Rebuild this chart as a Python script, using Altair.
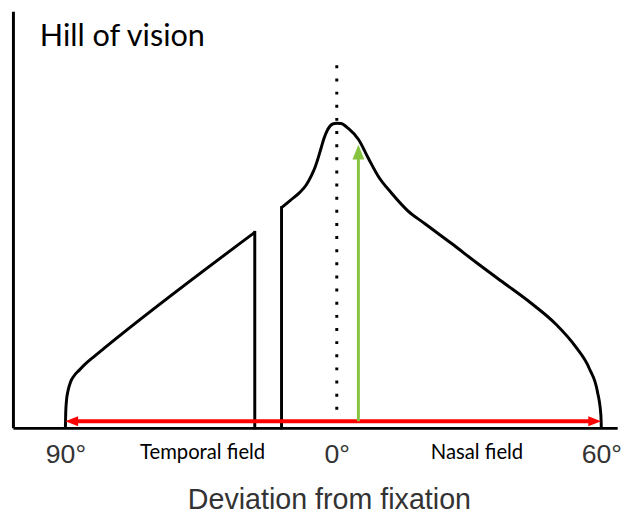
import altair as alt
import pandas as pd

# ---- data (x: degrees from fixation, temporal negative; y: relative sensitivity 0-100)
# temporal hill (left of the blind spot), ends at the blind-spot edge
temporal_deg = [-90.0, -89.9, -89.66, -89.17, -88.35, -87.04, -85.4, -83.1, -80.5, -76.6, -27.2]
temporal_sens = [0.0, 3.55, 6.4, 8.77, 10.9, 12.56, 13.86, 15.52, 17.11, 19.43, 46.92]
# nasal hill (right of the blind spot), starts at the blind-spot edge
nasal_deg = [-18.32, -15.38, -12.43, -10.14, -8.51, -7.2, -6.22, -5.24, -4.25, -3.27, -2.29, -1.15,
             0.0, 0.9, 2.69, 4.93, 7.16, 9.4, 12.54, 16.12, 19.93, 25.97, 31.79, 37.83, 43.88,
             49.7, 54.2, 57.3, 59.1, 59.9, 60.0]
nasal_sens = [52.84, 54.62, 56.4, 58.29, 60.43, 62.56, 64.69, 67.06, 69.43, 71.2, 72.39, 72.99,
              73.1, 73.06, 71.8, 69.2, 64.7, 60.4, 56.2, 52.1, 49.05, 44.3, 39.57, 34.83, 30.09,
              24.88, 19.43, 14.2, 8.77, 3.08, 0.0]
# blind-spot walls (x, top)
wall_deg = [-27.2, -18.32]
wall_top = [46.92, 52.84]

tick_values = [-90, 0, 60]
field_labels = ["Temporal field", "Nasal field"]
field_label_deg = [-44.5, 31.8]
field_label_sens = [-7.4, -7.4]

title_text = "Hill of vision"
title_deg = -98.5
title_sens = 91.7

fixation_deg = 0.0
fixation_top = 87.0

red_arrow_sens = 1.6
red_shaft = [-87.9, 58.5]
red_heads_deg = [-87.9, 58.5]

green_arrow_deg = 4.9
green_shaft = [1.6, 66.2]
green_head_sens = 66.2

# ---- tables
curve = pd.DataFrame(
    [{"seg": "temporal", "i": i, "deg": d, "sens": s} for i, (d, s) in enumerate(zip(temporal_deg, temporal_sens))]
    + [{"seg": "nasal", "i": i, "deg": d, "sens": s} for i, (d, s) in enumerate(zip(nasal_deg, nasal_sens))]
)
walls = pd.DataFrame({"deg": wall_deg, "sens": wall_top, "sens2": [0.0, 0.0]})
labels = pd.DataFrame({"label": field_labels, "deg": field_label_deg, "sens": field_label_sens})

xscale = alt.Scale(domain=[-107.4, 0, 63.6], range=[0, 328, 612], nice=False, zero=False)
yscale = alt.Scale(domain=[0, 100], nice=False, zero=False)

x_axis = alt.Axis(
    values=tick_values,
    labelExpr="abs(datum.value) + '°'",
    domainColor="black", domainWidth=3, ticks=False, tickSize=0, grid=False,
    labelFont="Liberation Sans", labelFontSize=27, labelColor="#333333", labelPadding=14,
    labelFlush=False, labelOverlap=False,
    title="Deviation from fixation", titleFont="Liberation Sans", titleFontSize=29,
    titleFontWeight="normal", titleColor="#333333", titleX=320, titleY=82,
    titleBaseline="alphabetic", titleAlign="center",
)
y_axis = alt.Axis(labels=False, ticks=False, grid=False, title=None, domainColor="black", domainWidth=3)

X = alt.X("deg:Q", scale=xscale, axis=x_axis)
Y = alt.Y("sens:Q", scale=yscale, axis=y_axis)

line = alt.Chart(curve).mark_line(color="black", strokeWidth=3, interpolate="monotone").encode(
    x=X, y=Y, detail="seg:N", order="i:Q"
)

wall = alt.Chart(walls).mark_rule(color="black", strokeWidth=3, strokeCap="square").encode(
    x="deg:Q", y="sens:Q", y2="sens2:Q"
)

fix = alt.Chart(pd.DataFrame({"deg": [fixation_deg], "sens": [fixation_top], "sens2": [0.0]})).mark_rule(
    color="black", strokeWidth=3, strokeDash=[3, 10.3], strokeCap="butt"
).encode(x="deg:Q", y="sens:Q", y2="sens2:Q")

red_line = alt.Chart(pd.DataFrame({"deg": [red_shaft[0]], "deg2": [red_shaft[1]], "sens": [red_arrow_sens]})).mark_rule(
    color="#ff0000", strokeWidth=4
).encode(x="deg:Q", x2="deg2:Q", y="sens:Q")

red_left = alt.Chart(pd.DataFrame({"deg": [red_heads_deg[0]], "sens": [red_arrow_sens]})).mark_point(
    shape="M-1,0L1,-0.77L1,0.77Z", filled=True, size=169, color="#ff0000", opacity=1, strokeWidth=0
).encode(x="deg:Q", y="sens:Q")
red_right = alt.Chart(pd.DataFrame({"deg": [red_heads_deg[1]], "sens": [red_arrow_sens]})).mark_point(
    shape="M1,0L-1,-0.77L-1,0.77Z", filled=True, size=169, color="#ff0000", opacity=1, strokeWidth=0
).encode(x="deg:Q", y="sens:Q")

green_line = alt.Chart(pd.DataFrame({"deg": [green_arrow_deg], "sens": [green_shaft[1]], "sens2": [green_shaft[0]]})).mark_rule(
    color="#86c440", strokeWidth=3
).encode(x="deg:Q", y="sens:Q", y2="sens2:Q")
green_head = alt.Chart(pd.DataFrame({"deg": [green_arrow_deg], "sens": [green_head_sens]})).mark_point(
    shape="M0,-1L0.8,1L-0.8,1Z", filled=True, size=225, color="#86c440", opacity=1, strokeWidth=0
).encode(x="deg:Q", y="sens:Q")

field_text = alt.Chart(labels).mark_text(
    font="Lato", fontSize=20.5, color="black", align="center", baseline="alphabetic"
).encode(x="deg:Q", y="sens:Q", text="label:N")

title = alt.Chart(pd.DataFrame({"deg": [title_deg], "sens": [title_sens], "t": [title_text]})).mark_text(
    font="Lato", fontSize=31, color="black", align="left", baseline="alphabetic"
).encode(x="deg:Q", y="sens:Q", text="t:N")

chart = alt.layer(
    line, wall, fix, red_line, red_left, red_right, green_line, green_head, field_text, title
).properties(
    width=612, height=422,
    autosize=alt.AutoSizeParams(type="none"),
    padding={"left": 5, "top": 0, "right": 15, "bottom": 85},
    background="white",
).configure_view(stroke=None)

chart.save("out.html", embed_options={"renderer": "svg", "actions": False})
